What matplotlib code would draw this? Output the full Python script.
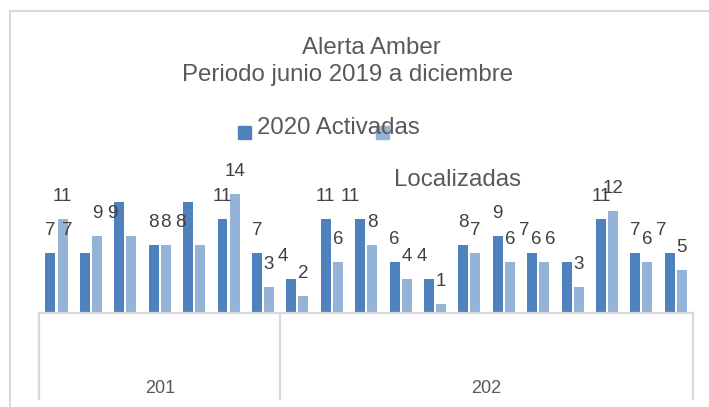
import matplotlib.pyplot as plt
from matplotlib.lines import Line2D
from matplotlib.patches import Rectangle
import numpy as np

plt.rcParams['font.family'] = ['Liberation Sans', 'DejaVu Sans']

# junio 2019 - diciembre 2020
years = ["201", "202"]
months_per_year = [7, 12]
activadas = [7, 7, 13, 8, 13, 11, 7,
             4, 11, 11, 6, 4, 8, 9, 7, 6, 11, 7, 7]
localizadas = [11, 9, 9, 8, 8, 14, 3,
               2, 6, 8, 4, 1, 7, 6, 6, 3, 12, 6, 5]

dark = '#4F81BD'
light = '#95B3D7'
grey_line = '#D9D9D9'
txt = '#404040'

# labels that sit off their bar in the original (points), None = hidden
nudge_act = {1: -13, 2: None, 4: None, 7: -6, 9: -7, 11: -5, 14: -6, 15: -12, 18: -6}
nudge_loc = {2: -14, 4: -14, 14: -6}

W, H = 709, 407
fig = plt.figure(figsize=(W / 100, H / 100), dpi=100)
ax = fig.add_axes([39.3 / W, (H - 312.7) / H, (693 - 39.3) / W, 136 / H])

x = np.arange(len(activadas))
bw = 0.29
off = 0.175
ax.bar(x - off, activadas, bw, color=dark)
ax.bar(x + off, localizadas, bw, color=light)

ax.set_xlim(-0.5, len(activadas) - 0.5)
ax.set_ylim(0, 16)
ax.set_xticks([])
ax.set_yticks([])
for s in ['top', 'left', 'right']:
    ax.spines[s].set_visible(False)
ax.spines['bottom'].set_color(grey_line)
ax.spines['bottom'].set_linewidth(1.6)

for i, (a, l) in enumerate(zip(activadas, localizadas)):
    dx = nudge_act.get(i, 0)
    if dx is not None:
        ax.annotate(str(a), (x[i] - off, a), xytext=(dx, 16), textcoords='offset points',
                    ha='center', va='center', fontsize=13.5, color=txt)
    dx = nudge_loc.get(i, 0)
    ax.annotate(str(l), (x[i] + off, l), xytext=(dx, 16), textcoords='offset points',
                ha='center', va='center', fontsize=13.5, color=txt)

# category box under the axis
edges = np.concatenate([[0], np.cumsum(months_per_year)]) - 0.5
trans = ax.get_xaxis_transform()
box_bottom = -86.3 / 136
for e in edges:
    ax.plot([e, e], [0, box_bottom], transform=trans, color=grey_line, lw=1.6, clip_on=False)
for k, yr in enumerate(years):
    ax.text((edges[k] + edges[k + 1]) / 2, -75.5 / 136, yr, transform=trans,
            ha='center', va='center', fontsize=13, color='#595959')

# chart border (cropped on the right and bottom)
fig.add_artist(Line2D([10 / W, 10 / W], [0, 1 - 11 / H], color=grey_line, lw=1.5))
fig.add_artist(Line2D([10 / W, 1], [1 - 11 / H, 1 - 11 / H], color=grey_line, lw=1.5))

# title
fig.text(371 / W, 1 - 48 / H, "Alerta Amber", ha='center', va='center', fontsize=17.3, color='#595959')
fig.text(348 / W, 1 - 75 / H, "Periodo junio 2019 a diciembre", ha='center', va='center',
         fontsize=17.3, color='#595959')

# legend
fig.add_artist(Rectangle((238 / W, 1 - 139 / H), 13 / W, 13 / H, color=dark))
fig.add_artist(Rectangle((376 / W, 1 - 139 / H), 13 / W, 13 / H, color=light))
fig.text(257 / W, 1 - 128 / H, "2020 Activadas", ha='left', va='center', fontsize=17.3,
         color='#595959', zorder=5)
fig.text(394 / W, 1 - 180 / H, "Localizadas", ha='left', va='center', fontsize=17.3, color='#595959')

fig.savefig('out.png', dpi=100)
